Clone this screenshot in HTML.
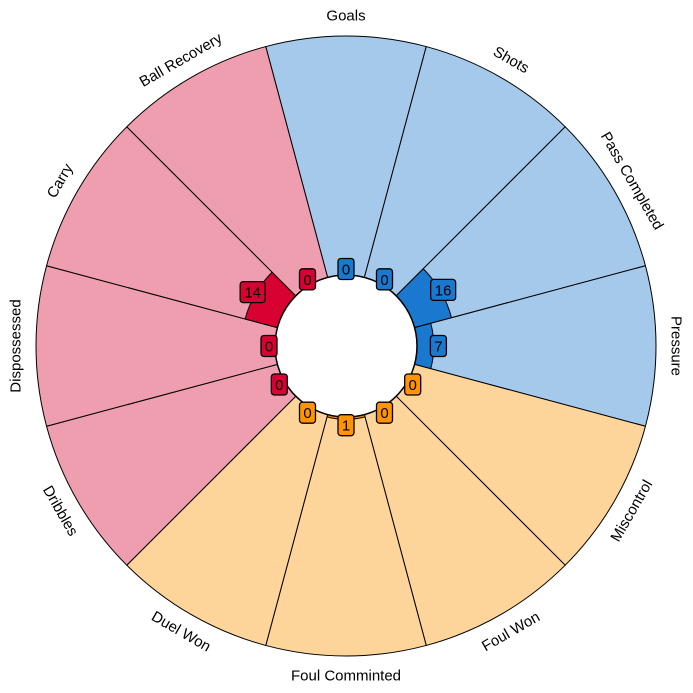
<!DOCTYPE html>
<html><head><meta charset="utf-8"><style>
html,body{margin:0;padding:0;background:#fff;}
svg{display:block;font-family:"Liberation Sans",sans-serif;}
</style></head><body>
<svg id="chart" width="693" height="693" viewBox="0 0 693 693"></svg>
<script>
const categories=["Goals","Shots","Pass Completed","Pressure","Miscontrol","Foul Won","Foul Comminted","Duel Won","Dribbles","Dispossessed","Carry","Ball Recovery"];
const values=[0,0,16,7,0,0,1,0,0,0,14,0];
const groups=["attack","attack","attack","attack","def","def","def","def","poss","poss","poss","poss"];
const colors={attack:["#A4C9EB","#1A78CF"],def:["#FDD49A","#FF9300"],poss:["#EF9EB0","#D70232"]};
const cx=346,cy=346,R0=71,R1=310,maxV=100;
const svg=document.getElementById('chart');
const NS="http://www.w3.org/2000/svg";
function rScale(v){return R0+(R1-R0)*v/maxV;}
function pt(r,deg){const a=deg*Math.PI/180;return [cx+r*Math.cos(a),cy-r*Math.sin(a)];}
function sector(r0,r1,a0,a1){
  const p1=pt(r1,a0),p2=pt(r1,a1),p3=pt(r0,a1),p4=pt(r0,a0);
  return `M${p1[0]},${p1[1]} A${r1},${r1} 0 0 1 ${p2[0]},${p2[1]} L${p3[0]},${p3[1]} A${r0},${r0} 0 0 0 ${p4[0]},${p4[1]} Z`;
}
const n=categories.length,step=360/n;
for(let i=0;i<n;i++){
  const c=90-i*step,a0=c+step/2,a1=c-step/2;
  const col=colors[groups[i]];
  const bg=document.createElementNS(NS,'path');
  bg.setAttribute('d',sector(R0,R1,a0,a1));
  bg.setAttribute('fill',col[0]);bg.setAttribute('stroke','#000');bg.setAttribute('stroke-width','1');
  
  
  svg.appendChild(bg);
  if(values[i]>0){
    const v=document.createElementNS(NS,'path');
    v.setAttribute('d',sector(R0,rScale(values[i]),a0,a1));
    v.setAttribute('fill',col[1]);v.setAttribute('stroke','#000');v.setAttribute('stroke-width','1');
    
    
    svg.appendChild(v);
  }
}
const hole=document.createElementNS(NS,'circle');
hole.setAttribute('cx',cx);hole.setAttribute('cy',cy);hole.setAttribute('r',R0);
hole.setAttribute('fill','#fff');hole.setAttribute('stroke','#000');hole.setAttribute('stroke-width','1.5');


svg.appendChild(hole);
for(let i=0;i<n;i++){
  const c=90-i*step;
  const col=colors[groups[i]];
  const lr=R0+6+(R1-R0)*values[i]/maxV*0.92;
  const p=pt(lr,c);
  const txt=String(values[i]);
  const w=txt.length>1?25:16,h=21;
  const g=document.createElementNS(NS,'g');
  
  
  const rc=document.createElementNS(NS,'rect');
  rc.setAttribute('x',p[0]-w/2);rc.setAttribute('y',p[1]-h/2);rc.setAttribute('width',w);rc.setAttribute('height',h);
  rc.setAttribute('rx',3);rc.setAttribute('fill',col[1]);rc.setAttribute('stroke','#000');rc.setAttribute('stroke-width','1.3');
  g.appendChild(rc);
  const t=document.createElementNS(NS,'text');
  t.setAttribute('x',p[0]);t.setAttribute('y',p[1]+5.5);t.setAttribute('text-anchor','middle');
  t.setAttribute('font-size','15');t.setAttribute('fill','#000');
  t.textContent=txt;g.appendChild(t);
  svg.appendChild(g);
}
for(let i=0;i<n;i++){
  const c=90-i*step;
  const cc=((c%360)+360)%360;
  const p=pt(330,c);
  let rot=90-cc;
  while(rot>90)rot-=180;
  while(rot<-90)rot+=180;
  const t=document.createElementNS(NS,'text');
  t.setAttribute('x',p[0]);t.setAttribute('y',p[1]);
  t.setAttribute('text-anchor','middle');t.setAttribute('dominant-baseline','central');
  t.setAttribute('font-size','15');t.setAttribute('fill','#000');
  t.setAttribute('transform',`rotate(${rot} ${p[0]} ${p[1]})`);
  
  
  t.textContent=categories[i];
  svg.appendChild(t);
}
</script>
</body></html>
